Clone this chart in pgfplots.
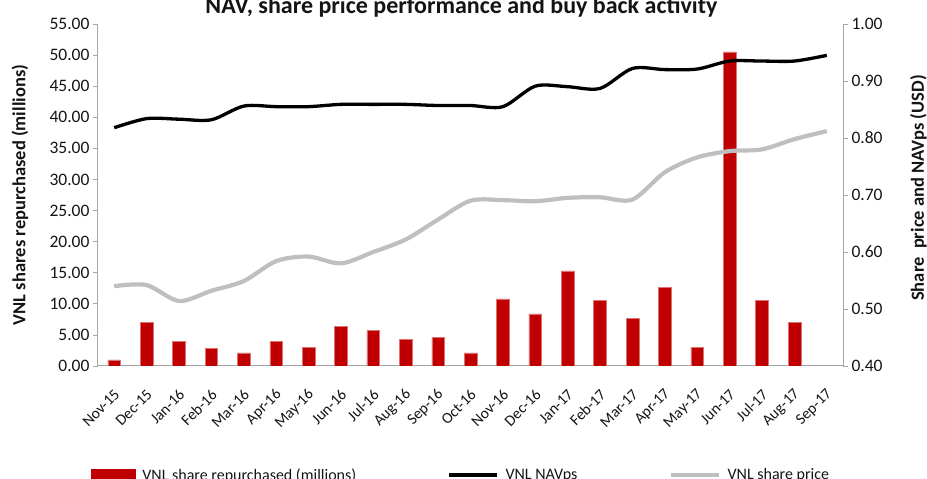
\documentclass[border=0pt]{standalone}
\usepackage{pgfplots}
\pgfplotsset{compat=1.18}
\usepackage{fontspec}
\setmainfont{Carlito}
\definecolor{barred}{RGB}{192,0,0}
\definecolor{axgray}{RGB}{166,166,166}
\definecolor{spgray}{RGB}{191,191,191}
\definecolor{txt}{RGB}{20,20,20}
\begin{document}
\begin{tikzpicture}[x=1pt,y=1pt]
\path[use as bounding box] (0,0) rectangle (927,479);
\node[anchor=base, font=\bfseries\fontsize{24}{28}\selectfont, text=txt] at (461.5,465) {NAV, share price performance and buy back activity};
\begin{axis}[
  at={(98pt,113pt)}, anchor=south west, scale only axis,
  width=745pt, height=342pt,
  xmin=-0.5, xmax=22.5, ymin=0, ymax=55,
  axis x line*=bottom, axis y line*=left,
  axis line style={draw=axgray, line width=1pt, -},
  xtick={0,...,22},
  xticklabels={Nov-15,Dec-15,Jan-16,Feb-16,Mar-16,Apr-16,May-16,Jun-16,Jul-16,Aug-16,Sep-16,Oct-16,Nov-16,Dec-16,Jan-17,Feb-17,Mar-17,Apr-17,May-17,Jun-17,Jul-17,Aug-17,Sep-17},
  x tick style={draw=none},
  ytick={0,5,...,55}, ytick pos=left,
  y tick style={draw=axgray, line width=0.8pt},
  tick align=outside, major tick length=5pt,
  /pgf/number format/assume math mode=true,
  yticklabel style={font=\fontsize{17.5}{20}\selectfont, text=txt,
    /pgf/number format/fixed, /pgf/number format/fixed zerofill, /pgf/number format/precision=2},
  xticklabel style={font=\fontsize{15.5}{18}\selectfont, text=txt, inner sep=0pt, xshift=3pt, yshift=-21pt, rotate=45, anchor=east},
  ylabel={VNL shares repurchased (millions)},
  every axis y label/.style={at={(axis description cs:-0.1047,0.5)}, rotate=90, anchor=center, font=\bfseries\fontsize{18.5}{22}\selectfont, text=txt},
]
\addplot[ybar, bar width=12.7pt, fill=barred, draw=barred!55!white, line width=0.5pt] coordinates {
(0,1.0) (1,7.0) (2,3.9) (3,2.8) (4,2.1) (5,3.9) (6,3.0) (7,6.4) (8,5.7) (9,4.3) (10,4.6) (11,2.1)
(12,10.8) (13,8.4) (14,15.3) (15,10.6) (16,7.7) (17,12.6) (18,3.0) (19,50.5) (20,10.6) (21,7.0)
};
\end{axis}
\begin{axis}[
  at={(98pt,113pt)}, anchor=south west, scale only axis,
  width=745pt, height=342pt,
  xmin=-0.5, xmax=22.5, ymin=0.4, ymax=1.0,
  axis x line=none, axis y line*=right,
  axis line style={draw=axgray, line width=1pt, -},
  ytick={0.4,0.5,0.6,0.7,0.8,0.9,1.0}, ytick pos=right,
  y tick style={draw=axgray, line width=0.8pt},
  tick align=outside, major tick length=5pt,
  /pgf/number format/assume math mode=true,
  yticklabel style={font=\fontsize{17.5}{20}\selectfont, text=txt,
    /pgf/number format/fixed, /pgf/number format/fixed zerofill, /pgf/number format/precision=2},
  ylabel={Share\ \ price and NAVps (USD)},
  every axis y label/.style={at={(axis description cs:1.1014,0.5205)}, rotate=90, anchor=center, font=\bfseries\fontsize{18.5}{22}\selectfont, text=txt},
  legend image code/.code={\draw[#1] (0pt,0pt) -- (48pt,0pt);},
  legend columns=3, legend cell align=left,
  legend style={at={(axis description cs:-0.0094,-0.3187)}, anchor=west, draw=none, fill=none,
    inner sep=0pt, outer sep=0pt, font=\fontsize{16}{19}\selectfont, text=txt,
    column sep=7pt, /tikz/every even column/.append style={column sep=91pt},
    nodes={inner sep=0pt}},
]
\addlegendimage{legend image code/.code={\fill[barred] (0pt,-5.7pt) rectangle (44pt,5.7pt);}}
\addlegendentry{VNL share repurchased (millions)}
\addplot[black, line width=3.3pt, smooth] coordinates {
(0,0.818) (1,0.834) (2,0.833) (3,0.832) (4,0.856) (5,0.855) (6,0.855) (7,0.859) (8,0.859) (9,0.859)
(10,0.857) (11,0.857) (12,0.855) (13,0.891) (14,0.890) (15,0.887) (16,0.922) (17,0.920) (18,0.921)
(19,0.935) (20,0.935) (21,0.935) (22,0.945)
};
\addlegendentry{VNL NAVps}
\addplot[spgray, line width=4.2pt, smooth] coordinates {
(0,0.540) (1,0.542) (2,0.514) (3,0.532) (4,0.549) (5,0.584) (6,0.592) (7,0.580) (8,0.600) (9,0.622)
(10,0.657) (11,0.690) (12,0.691) (13,0.689) (14,0.695) (15,0.696) (16,0.692) (17,0.740) (18,0.766)
(19,0.777) (20,0.780) (21,0.798) (22,0.812)
};
\addlegendentry{VNL share price}
\end{axis}
\end{tikzpicture}
\end{document}
